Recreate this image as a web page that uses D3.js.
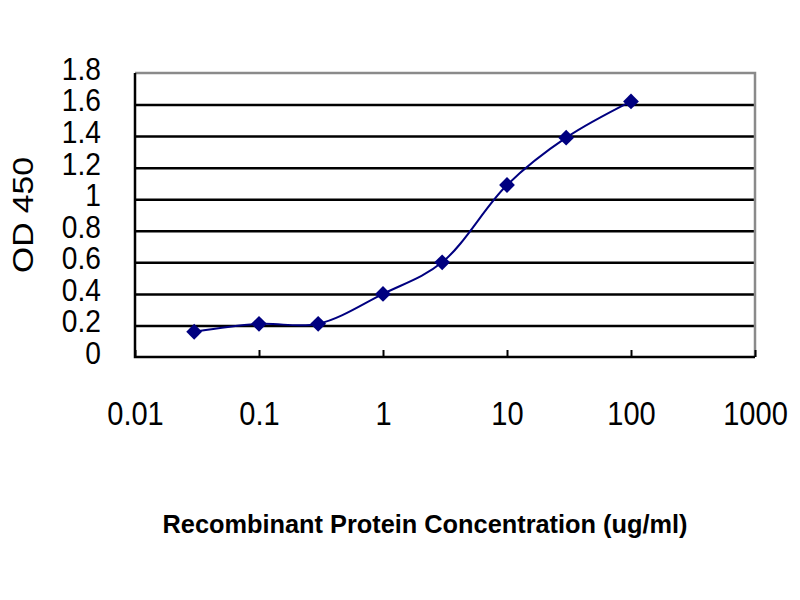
<!DOCTYPE html>
<html>
<head>
<meta charset="utf-8">
<script src="https://cdn.jsdelivr.net/npm/d3@7"></script>
<style>
  body { margin: 0; background: #fff; }
  svg { font-family: "Liberation Sans", Arial, sans-serif; }
  .domain { display: none; }
</style>
</head>
<body>
<div id="chart"></div>
<script>
// concentration (ug/ml) and OD 450 readings
let conc = [0.03, 0.1, 0.3, 1, 3, 10, 30, 100];
let od = [0.16, 0.21, 0.21, 0.40, 0.60, 1.09, 1.39, 1.62];

let xTicks = [0.01, 0.1, 1, 10, 100, 1000];
let xTickLabels = ['0.01', '0.1', '1', '10', '100', '1000'];
let yTicks = [0, 0.2, 0.4, 0.6, 0.8, 1, 1.2, 1.4, 1.6, 1.8];
let yTickLabels = ['0', '0.2', '0.4', '0.6', '0.8', '1', '1.2', '1.4', '1.6', '1.8'];

let width = 800, height = 600;
let svg = d3.select('#chart').append('svg')
    .attr('width', width)
    .attr('height', height);

let plotLeft = 135, plotRight = 755, plotTop = 73, plotBottom = 357;
let squeeze = 0.88; // tick text is narrower than plain Arial

let x = d3.scaleLog().domain([0.01, 1000]).range([plotLeft, plotRight]);
let y = d3.scaleLinear().domain([0, 1.8]).range([plotBottom, plotTop]);

// gridlines
svg.append('g')
    .attr('transform', `translate(${plotLeft},0)`)
    .call(d3.axisLeft(y).tickValues(yTicks.slice(1, -1)).tickSize(-(plotRight - plotLeft)).tickFormat(''))
    .call(g => g.selectAll('line').attr('stroke', '#000').attr('stroke-width', 2.5));

// top + right border (grey)
svg.append('path')
    .attr('d', `M${plotLeft},${y(1.8)}H${plotRight}V${plotBottom}`)
    .attr('fill', 'none')
    .attr('stroke', '#8a8a8a')
    .attr('stroke-width', 2.5);

// y axis labels
svg.append('g')
    .attr('transform', `translate(${plotLeft},0)`)
    .call(d3.axisLeft(y).tickValues(yTicks).tickSize(0).tickPadding(34)
        .tickFormat((d, i) => yTickLabels[i]))
    .call(g => g.selectAll('text')
        .attr('font-size', 32).attr('fill', '#000').attr('dy', '0.2em')
        .attr('x', -34 / squeeze)
        .attr('transform', `scale(${squeeze},1)`));

// x axis, ticks pointing up
svg.append('g')
    .attr('transform', `translate(0,${plotBottom})`)
    .call(d3.axisBottom(x).tickValues(xTicks).tickSizeInner(-7).tickSizeOuter(0).tickPadding(45)
        .tickFormat((d, i) => xTickLabels[i]))
    .call(g => g.selectAll('line').attr('stroke', '#000').attr('stroke-width', 2))
    .call(g => g.selectAll('text')
        .attr('font-size', 33).attr('fill', '#000')
        .attr('transform', `scale(${squeeze},1)`));

// left and bottom axis lines
svg.append('path')
    .attr('d', `M${plotLeft},${plotTop}V${plotBottom}H${plotRight}`)
    .attr('fill', 'none')
    .attr('stroke', '#000')
    .attr('stroke-width', 2.5);

// data line
let pts = conc.map((c, i) => [c, od[i]]);
svg.append('path')
    .datum(pts)
    .attr('fill', 'none')
    .attr('stroke', '#000080')
    .attr('stroke-width', 2)
    .attr('d', d3.line().x(d => x(d[0])).y(d => y(d[1])).curve(d3.curveCatmullRom.alpha(0.5)));

svg.selectAll('.pt').data(pts).enter()
    .append('path')
    .classed('pt', true)
    .attr('transform', d => `translate(${x(d[0])},${y(d[1])}) rotate(45)`)
    .attr('d', d3.symbol(d3.symbolSquare, 125))
    .attr('fill', '#000080');

// axis titles
svg.append('text')
    .attr('x', 425)
    .attr('y', 533)
    .attr('text-anchor', 'middle')
    .attr('font-size', 25)
    .attr('font-weight', 'bold')
    .attr('textLength', 525)
    .attr('lengthAdjust', 'spacingAndGlyphs')
    .text('Recombinant Protein Concentration (ug/ml)');

svg.append('text')
    .attr('transform', 'translate(33,215) rotate(-90)')
    .attr('text-anchor', 'middle')
    .attr('font-size', 29)
    .attr('textLength', 116)
    .attr('lengthAdjust', 'spacingAndGlyphs')
    .text('OD 450');
</script>
</body>
</html>
